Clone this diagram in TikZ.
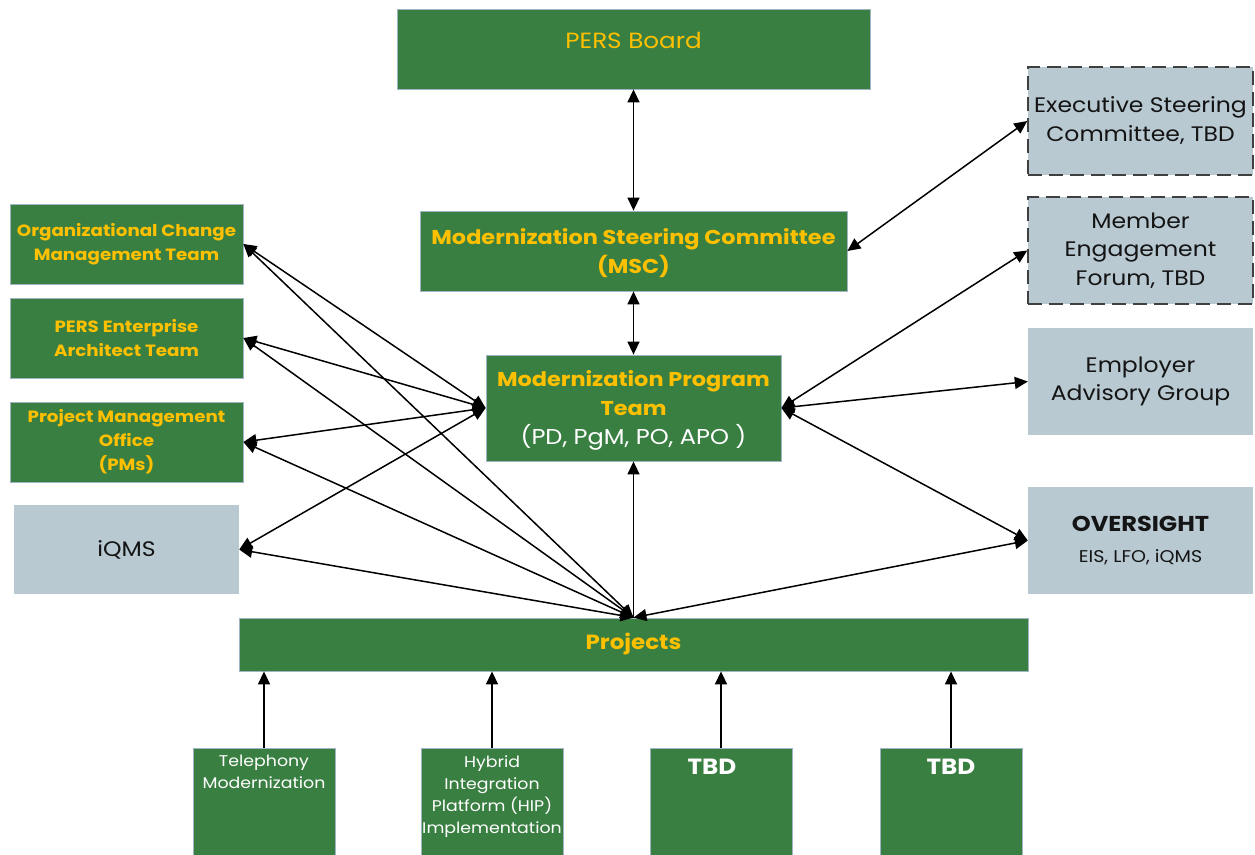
\documentclass[tikz,border=0pt]{standalone}
\usepackage{fontspec}
\setmainfont{Poppins}[FakeStretch=1.12]
\usetikzlibrary{arrows.meta}
\definecolor{bgreen}{RGB}{58,127,66}
\definecolor{borange}{RGB}{255,192,0}
\definecolor{bgrey}{RGB}{184,201,210}
\definecolor{bedge}{RGB}{160,180,195}
\definecolor{dtext}{RGB}{20,20,20}
\newcommand{\fs}[2]{\fontsize{#1}{#2}\selectfont}
\tikzset{
  gbox/.style={draw=bedge, line width=0.8pt, fill=bgreen, inner sep=0pt, align=center, text=borange, font=\bfseries},
  sbox/.style={fill=bgrey, inner sep=0pt, align=center, text=dtext},
  dbox/.style={sbox, draw=black!75, line width=1.5pt, dash pattern=on 14pt off 7pt},
  both/.style={line width=1.5pt, {Triangle[length=13pt,width=12pt]}-{Triangle[length=13pt,width=12pt]}},
  one/.style={line width=1.5pt, -{Triangle[length=13pt,width=12pt]}}
}
\begin{document}
\begin{tikzpicture}[x=1pt,y=-1pt]
\useasboundingbox (0,0) rectangle (1255,854);
% top column
\node[gbox, minimum width=473pt, minimum height=80pt] (board) at (633.5,49) {};
\node[text=borange, font=\fs{22}{26}] (boardt) at (633.5,40) {PERS Board};
\node[gbox, minimum width=427pt, minimum height=80pt] (msc) at (633.5,251) {};
\node[align=center, text=borange, font=\fs{20}{29}\bfseries] (msct) at (633.5,253) {Modernization Steering Committee\\(MSC)};
\node[gbox, minimum width=295pt, minimum height=106pt] (mpt) at (633.5,408) {};
\node[align=center, text=borange, font=\fs{20}{28.5}\bfseries] (mptt) at (633.5,410.5) {Modernization Program\\Team\\[1pt]{\color{white}\mdseries\fs{21.5}{29}(PD, PgM, PO, APO )}};
% left column
\node[gbox, minimum width=233pt, minimum height=80pt, font=\fs{16.3}{24}\bfseries] (ocm) at (126.5,244) {Organizational Change\\Management Team};
\node[gbox, minimum width=233pt, minimum height=80pt, font=\fs{16.3}{24}\bfseries] (pea) at (126.5,338) {PERS Enterprise\\Architect Team};
\node[gbox, minimum width=233pt, minimum height=80pt, font=\fs{16.3}{24}\bfseries] (pmo) at (126.5,442) {Project Management\\Office\\(PMs)};
\node[sbox, minimum width=225pt, minimum height=89pt, font=\fs{21}{24}] (iqms) at (126.5,549.5) {iQMS};
% right column
\node[dbox, minimum width=225pt, minimum height=108pt, font=\fs{21}{29}] (esc) at (1140.5,121) {Executive Steering\\Committee, TBD};
\node[dbox, minimum width=225pt, minimum height=107pt, font=\fs{21}{28.5}] (mef) at (1140.5,250.5) {Member\\Engagement\\Forum, TBD};
\node[sbox, minimum width=225pt, minimum height=107pt, font=\fs{21}{28.5}] (eag) at (1140.5,381.5) {Employer\\Advisory Group};
\node[sbox, minimum width=225pt, minimum height=107pt, font=\fs{21.5}{31}] (ovs) at (1140.5,540.5) {{\bfseries OVERSIGHT}\\{\fs{17}{31}EIS, LFO, iQMS}};
% projects
\node[gbox, minimum width=789pt, minimum height=53pt, font=\fs{20.5}{24}\bfseries] (proj) at (633.5,644.5) {Projects};
% bottom boxes
\node[gbox, minimum width=142pt, minimum height=112pt] (tel) at (264,804) {};
\node[gbox, minimum width=142pt, minimum height=112pt] (hip) at (492,804) {};
\node[gbox, minimum width=142pt, minimum height=112pt] (tbda) at (721,804) {};
\node[gbox, minimum width=142pt, minimum height=112pt] (tbdb) at (951,804) {};
\node[anchor=north, align=center, text=white, font=\fs{15.5}{22}, inner sep=0pt] (telt) at (264,755) {Telephony\\Modernization};
\node[anchor=north, align=center, text=white, font=\fs{15.5}{22}, inner sep=0pt] (hipt) at (492,755) {Hybrid\\Integration\\Platform (HIP)\\Implementation};
\node[text=white, font=\fs{22}{24}\bfseries] (tbdat) at (712,767) {TBD};
\node[text=white, font=\fs{22}{24}\bfseries] (tbdbt) at (951,767) {TBD};
% connectors
\draw[both] (board.south) -- (msc.north);
\draw[both] (msc.south) -- (mpt.north);
\draw[both] (msc.east) -- (esc.west);
\draw[both] (mpt.east) -- (mef.west);
\draw[both] (mpt.east) -- (eag.west);
\draw[both] (mpt.east) -- (ovs.west);
\draw[both] (proj.north) -- (ovs.west);
\draw[one] (proj.north) -- (mpt.south);
\foreach \b in {ocm,pea,pmo,iqms}{
  \draw[both] (\b.east) -- (mpt.west);
  \draw[both] (\b.east) -- (proj.north);
}
\foreach \b in {tel,hip,tbda,tbdb}{
  \draw[one] (\b.north) -- (\b.north |- proj.south);
}
\end{tikzpicture}
\end{document}
